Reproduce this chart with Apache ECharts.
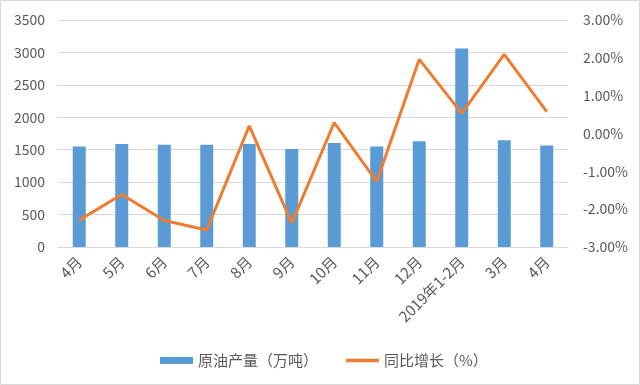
<!DOCTYPE html>
<html><head><meta charset="utf-8">
<script src="https://cdn.jsdelivr.net/npm/echarts@6/dist/echarts.min.js"></script>
<style>html,body{margin:0;padding:0;background:#fff}#c{width:640px;height:385px}</style>
</head><body><div id="c"></div>
<script>
var categories = ['4月','5月','6月','7月','8月','9月','10月','11月','12月','2019年1-2月','3月','4月'];
var output = [1550, 1590, 1575, 1575, 1590, 1510, 1605, 1550, 1630, 3060, 1645, 1565];
var growth = [-2.29, -1.61, -2.30, -2.55, 0.20, -2.37, 0.29, -1.27, 1.96, 0.53, 2.09, 0.58];
var seriesNames = ['原油产量（万吨）', '同比增长（%）'];

var chart = echarts.init(document.getElementById('c'));
var txt = '#595959';
chart.setOption({
  animation: false,
  textStyle: {fontFamily: 'Noto Sans CJK SC, sans-serif'},
  graphic: [{type: 'rect', shape: {x: 0.5, y: 0.5, width: 639, height: 384}, style: {fill: 'none', stroke: '#d9d9d9', lineWidth: 1}}],
  grid: {left: 58, right: 72, top: 20, bottom: 138, containLabel: false},
  legend: {
    top: 348, left: 155, itemGap: 28, itemWidth: 33, itemHeight: 7,
    textStyle: {color: txt, fontSize: 15},
    data: [{name: seriesNames[0], icon: 'rect'}, {name: seriesNames[1], icon: 'path://M0,0 L30,0 L30,3 L0,3 Z'}]
  },
  xAxis: {
    type: 'category', data: categories,
    axisLine: {lineStyle: {color: '#d9d9d9'}},
    axisTick: {show: false},
    axisLabel: {rotate: 45, color: txt, fontSize: 15, interval: 0, margin: 12}
  },
  yAxis: [{
    type: 'value', min: 0, max: 3500, interval: 500,
    axisLine: {show: false}, axisTick: {show: false},
    axisLabel: {color: txt, fontSize: 14, margin: 13, formatter: function(v){return String(v);}},
    splitLine: {lineStyle: {color: '#d9d9d9'}}
  }, {
    type: 'value', min: -3, max: 3, interval: 1,
    axisLine: {show: false}, axisTick: {show: false},
    axisLabel: {color: txt, fontSize: 14, margin: 15, formatter: function(v){return v.toFixed(2) + '%';}},
    splitLine: {show: false}
  }],
  series: [{
    name: seriesNames[0], type: 'bar', data: output, barWidth: 13,
    itemStyle: {color: '#5B9BD5'}
  }, {
    name: seriesNames[1], type: 'line', yAxisIndex: 1, data: growth,
    symbol: 'none', lineStyle: {color: '#ED7D31', width: 3}, itemStyle: {color: '#ED7D31'}
  }]
});
</script></body></html>
